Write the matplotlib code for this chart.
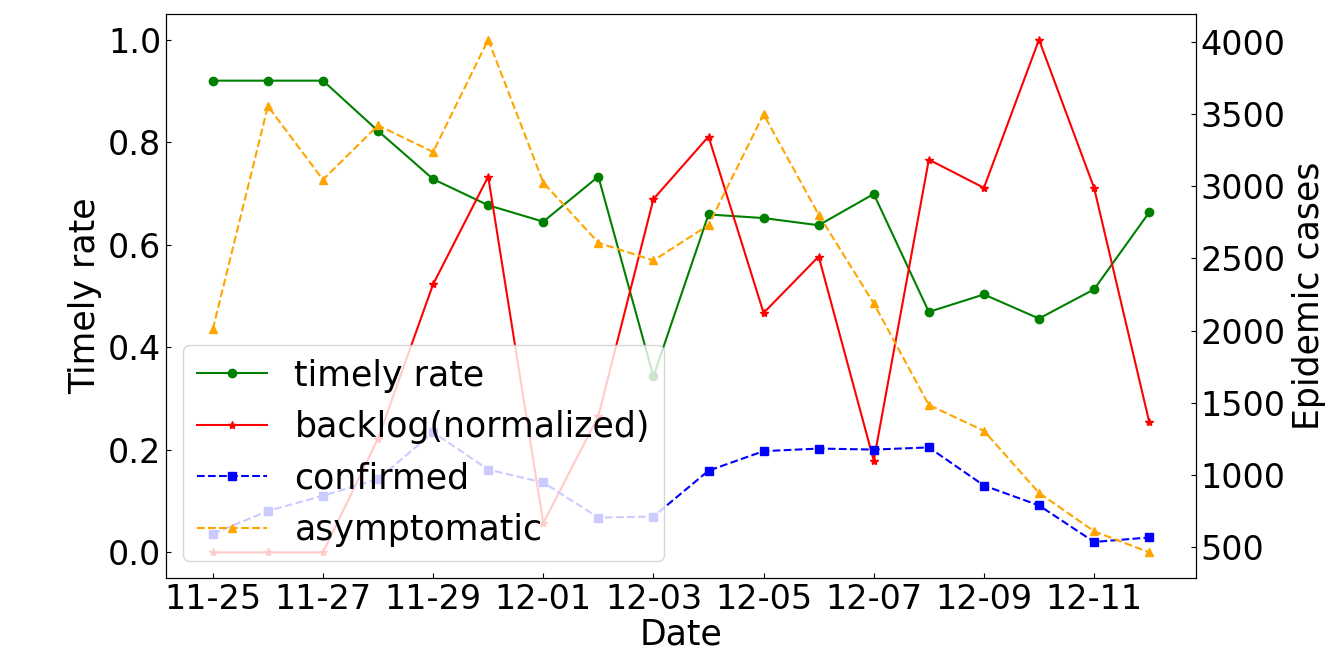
import datetime as dt
import matplotlib
matplotlib.use('Agg')
import matplotlib.pyplot as plt
import matplotlib.dates as mdates

dates = [dt.date(2022, 11, 25) + dt.timedelta(days=i) for i in range(18)]

timely_rate = [0.92, 0.92, 0.92, 0.822, 0.728, 0.677, 0.645, 0.733, 0.343,
               0.659, 0.652, 0.638, 0.699, 0.469, 0.503, 0.456, 0.513, 0.663]
backlog = [0.0, 0.0, 0.0, 0.222, 0.523, 0.733, 0.057, 0.266, 0.689,
           0.811, 0.467, 0.577, 0.179, 0.766, 0.711, 1.0, 0.711, 0.255]
confirmed = [592, 751, 856, 971, 1296, 1037, 948, 705, 712,
             1030, 1165, 1183, 1176, 1191, 927, 789, 536, 567]
asymptomatic = [2010, 3555, 3046, 3422, 3238, 4016, 3026, 2609, 2486,
                2731, 3499, 2803, 2189, 1485, 1306, 876, 610, 464]

fs_tick = 24
fs = 25

fig = plt.figure(figsize=(13.29, 6.55), dpi=100)
ax1 = fig.add_axes([0.1249, 0.1176, 0.775, 0.861])
ax2 = ax1.twinx()

l1, = ax1.plot(dates, timely_rate, color='green', marker='o', ms=6, label='timely rate')
l2, = ax1.plot(dates, backlog, color='red', marker='*', ms=6, label='backlog(normalized)')
l3, = ax2.plot(dates, confirmed, color='blue', marker='s', ms=6, linestyle='--', label='confirmed')
l4, = ax2.plot(dates, asymptomatic, color='orange', marker='^', ms=6, linestyle='--', label='asymptomatic')

ax1.xaxis.set_major_locator(mdates.DayLocator(interval=2))
ax1.xaxis.set_major_formatter(mdates.DateFormatter('%m-%d'))

ax1.set_xlabel('Date', fontsize=fs, labelpad=1)
ax1.set_ylabel('Timely rate', fontsize=fs)
ax2.set_ylabel('Epidemic cases', fontsize=fs)

ax1.tick_params(axis='both', direction='in', labelsize=fs_tick)
ax2.tick_params(axis='y', direction='in', labelsize=fs_tick)

ax2.legend(handles=[l1, l2, l3, l4], loc='lower left', fontsize=fs)

fig.savefig('out.png', dpi=100)
